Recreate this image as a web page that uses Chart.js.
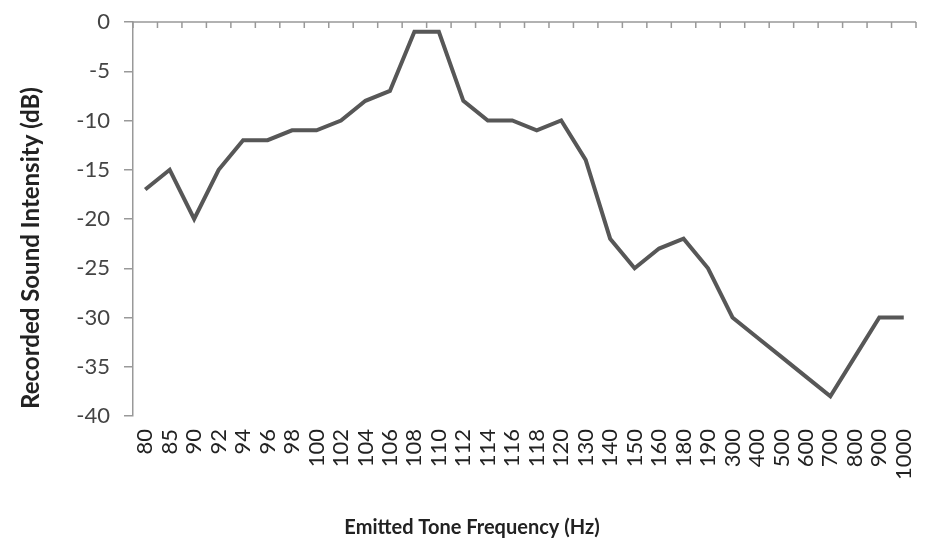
<!DOCTYPE html>
<html>
<head>
<meta charset="utf-8">
<script src="https://cdn.jsdelivr.net/npm/chart.js@4.4.0/dist/chart.umd.min.js"></script>
<style>
  html, body { margin: 0; padding: 0; background: #fff; }
  #wrap { width: 928px; height: 543px; }
</style>
</head>
<body>
<div id="wrap"><canvas id="soundChart" width="928" height="543"></canvas></div>
<script>
const frequencies = ['80', '85', '90', '92', '94', '96', '98', '100', '102', '104', '106', '108',
  '110', '112', '114', '116', '118', '120', '130', '140', '150', '160', '180', '190',
  '300', '400', '500', '600', '700', '800', '900', '1000'];
const intensity = [-17, -15, -20, -15, -12, -12, -11, -11, -10, -8, -7, -1,
  -1, -8, -10, -10, -11, -10, -14, -22, -25, -23, -22, -25,
  -30, -32, -34, -36, -38, -34, -30, -30];
const yTicks = [0, -5, -10, -15, -20, -25, -30, -35, -40];
const xTitle = 'Emitted Tone Frequency (Hz)';
const yTitle = 'Recorded Sound Intensity (dB)';

// axis line sits at y = 0 (top), tick marks point down into the plot
const topAxis = {
  id: 'topAxis',
  afterDatasetsDraw(chart) {
    const { ctx, scales: { x, y } } = chart;
    const y0 = y.getPixelForValue(0);
    const step = x.getPixelForValue(1) - x.getPixelForValue(0);
    ctx.save();
    ctx.strokeStyle = '#999';
    ctx.lineWidth = 1.5;
    ctx.beginPath();
    ctx.moveTo(chart.chartArea.left, y0);
    ctx.lineTo(chart.chartArea.right, y0);
    for (let i = 0; i <= frequencies.length; i++) {
      const px = x.getPixelForValue(i) - step / 2;
      ctx.moveTo(px, y0);
      ctx.lineTo(px, y0 + 6);
    }
    ctx.stroke();
    ctx.restore();
  }
};

// axis titles sit off-centre in the original, so place them by hand
const axisTitles = {
  id: 'axisTitles',
  afterDraw(chart) {
    const { ctx } = chart;
    ctx.save();
    ctx.fillStyle = '#222';
    ctx.textAlign = 'center';
    ctx.textBaseline = 'middle';
    ctx.font = 'bold 20px Lato';
    ctx.fillText(xTitle, 472, 528);
    ctx.translate(31, 248);
    ctx.rotate(-Math.PI / 2);
    ctx.font = 'bold 24px Lato';
    ctx.fillText(yTitle, 0, 0);
    ctx.restore();
  }
};

new Chart(document.getElementById('soundChart'), {
  type: 'line',
  data: {
    labels: frequencies,
    datasets: [{
      data: intensity,
      borderColor: '#575757',
      borderWidth: 4,
      pointRadius: 0,
      tension: 0,
      borderJoinStyle: 'miter'
    }]
  },
  options: {
    responsive: false,
    animation: false,
    layout: { padding: { top: 22, right: 12, left: 0, bottom: 0 } },
    plugins: { legend: { display: false }, tooltip: { enabled: false } },
    scales: {
      x: {
        offset: true,
        afterFit(axis) {
          axis.height = 127;
          axis.paddingLeft = 0;
          axis.paddingRight = 0;
        },
        grid: { display: false },
        border: { display: false },
        ticks: {
          color: '#222',
          font: { family: 'Lato', size: 22 },
          minRotation: 90, maxRotation: 90,
          autoSkip: false,
          padding: 5
        }
      },
      y: {
        min: -40, max: 0,
        afterFit(axis) {
          axis.width = 133;
          axis.paddingTop = 0;
          axis.paddingBottom = 0;
        },
        afterBuildTicks(axis) { axis.ticks = yTicks.map(v => ({ value: v })); },
        grid: { drawOnChartArea: false, tickLength: 9, color: '#999', lineWidth: 1.5 },
        border: { color: '#999', width: 1.5 },
        ticks: {
          color: '#444',
          font: { family: 'Lato', size: 22 },
          padding: 14
        }
      }
    }
  },
  plugins: [topAxis, axisTitles]
});
</script>
</body>
</html>
